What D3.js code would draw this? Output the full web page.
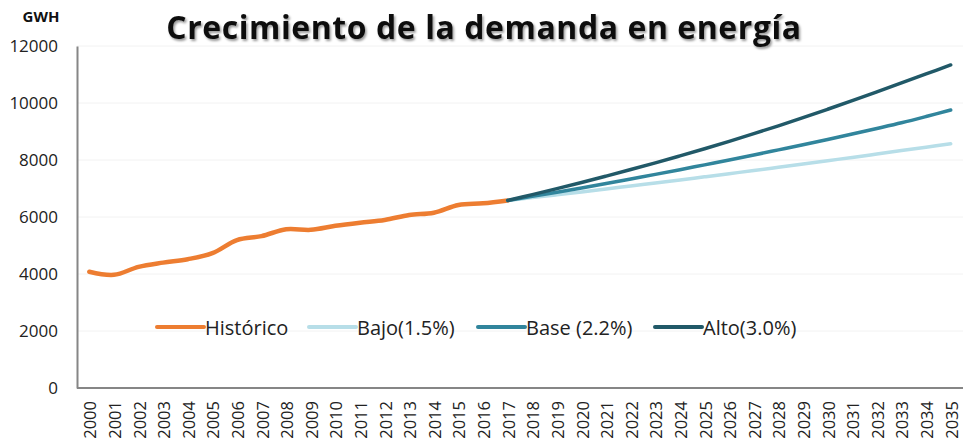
<!DOCTYPE html>
<html>
<head>
<meta charset="utf-8">
<script src="https://cdn.jsdelivr.net/npm/d3@7/dist/d3.min.js"></script>
<style>
  html, body { margin: 0; padding: 0; background: #fff; }
  svg { display: block; font-family: "Open Sans", "Noto Sans", sans-serif; }
</style>
</head>
<body>
<svg id="chart" width="963" height="442"></svg>
<script>
const years = d3.range(2000, 2036).map(String);
const histYears = d3.range(2000, 2018).map(String);
const projYears = d3.range(2017, 2036).map(String);
const historico = [4080, 3970, 4250, 4400, 4520, 4730, 5190, 5330, 5570, 5550, 5690, 5800, 5895, 6070, 6150, 6420, 6480, 6580];
const bajo = [6580, 6680, 6780, 6880, 6985, 7090, 7195, 7300, 7410, 7520, 7630, 7745, 7860, 7975, 8090, 8210, 8330, 8450, 8570];
const base = [6580, 6725, 6870, 7020, 7175, 7335, 7495, 7660, 7830, 8000, 8175, 8355, 8535, 8720, 8910, 9105, 9305, 9525, 9755];
const alto = [6580, 6785, 6995, 7210, 7435, 7665, 7900, 8145, 8395, 8655, 8925, 9200, 9485, 9780, 10080, 10390, 10705, 11020, 11335];
const yTicks = [0, 2000, 4000, 6000, 8000, 10000, 12000];
const seriesNames = ["Histórico", "Bajo(1.5%)", "Base (2.2%)", "Alto(3.0%)"];
const seriesColors = ["#ED7D31", "#B7DEE8", "#31859C", "#215968"];
const title = "Crecimiento de la demanda en energía";
const unitLabel = "GWH";

(function () {
const svg = d3.select("#chart");
const mLeft = 77, mRight = 963, mTop = 46, mBottom = 388;

const x = d3.scalePoint().domain(years).range([mLeft, mRight]).padding(0.5);
const y = d3.scaleLinear().domain([0, 12000]).range([mBottom, mTop]);

// gridlines
svg.append("g").selectAll("line").data(yTicks.filter(d => d > 0)).join("line")
  .attr("x1", mLeft).attr("x2", mRight)
  .attr("y1", d => y(d)).attr("y2", d => y(d))
  .attr("stroke", "#f2f2f2").attr("stroke-width", 1);

// y axis
const yAxis = svg.append("g").attr("transform", `translate(${mLeft},0)`)
  .call(d3.axisLeft(y).tickValues(yTicks).tickSize(0).tickPadding(19).tickFormat(d3.format("d")));
yAxis.select(".domain").attr("stroke", "#868686").attr("stroke-width", 2);
yAxis.selectAll("text").attr("font-size", 17).attr("fill", "#222").attr("font-family", "Open Sans");

// x axis
const xAxis = svg.append("g").attr("transform", `translate(0,${mBottom})`)
  .call(d3.axisBottom(x).tickSize(0).tickPadding(0));
xAxis.select(".domain").attr("stroke", "#868686").attr("stroke-width", 2)
  .attr("d", `M${mLeft},0H${mRight}`);
xAxis.selectAll("text")
  .attr("font-size", 16.5).attr("fill", "#222").attr("font-family", "Open Sans")
  .attr("text-anchor", "end").attr("dy", null)
  .attr("transform", "translate(0,13) rotate(-90)")
  .attr("x", 0).attr("y", 0).attr("dominant-baseline", "central");

// lines
const line = d3.line().x(d => x(d[0])).y(d => y(d[1])).curve(d3.curveCatmullRom.alpha(0.5));
const data = [
  { vals: d3.zip(histYears, historico), color: seriesColors[0], w: 4.5 },
  { vals: d3.zip(projYears, bajo), color: seriesColors[1], w: 3.5 },
  { vals: d3.zip(projYears, base), color: seriesColors[2], w: 3.5 },
  { vals: d3.zip(projYears, alto), color: seriesColors[3], w: 3.5 }
];
svg.append("g").selectAll("path").data(data).join("path")
  .attr("d", d => line(d.vals))
  .attr("fill", "none").attr("stroke", d => d.color).attr("stroke-width", d => d.w)
  .attr("stroke-linecap", "round").attr("stroke-linejoin", "round");

// legend
const legendY = 327;
const legendX = [157, 309, 478, 655];
const lg = svg.append("g").selectAll("g").data(seriesNames).join("g")
  .attr("transform", (d, i) => `translate(${legendX[i]},${legendY})`);
lg.append("line").attr("x1", 0).attr("x2", 47).attr("y1", 0).attr("y2", 0)
  .attr("stroke", (d, i) => seriesColors[i]).attr("stroke-width", 4).attr("stroke-linecap", "round");
lg.append("text").attr("x", 48).attr("y", 0).attr("dominant-baseline", "central")
  .attr("font-size", 20).attr("fill", "#222").text(d => d);

// unit label
svg.append("text").attr("x", 41).attr("y", 22).attr("text-anchor", "middle")
  .attr("font-size", 15).attr("font-weight", "bold").attr("fill", "#111").text(unitLabel);

// title with shadow
const defs = svg.append("defs");
const f = defs.append("filter").attr("id", "sh").attr("x", "-5%").attr("y", "-30%").attr("width", "110%").attr("height", "160%");
f.append("feDropShadow").attr("dx", 1.5).attr("dy", 2).attr("stdDeviation", 1.3).attr("flood-color", "#000").attr("flood-opacity", 0.4);
const t = svg.append("text").attr("x", 484).attr("y", 39).attr("text-anchor", "middle")
  .attr("font-size", 29).attr("font-weight", "bold").attr("letter-spacing", 0.6).attr("fill", "#111")
  .attr("filter", "url(#sh)").text(title);
const tw = t.node().getComputedTextLength();
t.attr("font-size", 29 * 638 / tw);
})();
</script>
</body>
</html>
